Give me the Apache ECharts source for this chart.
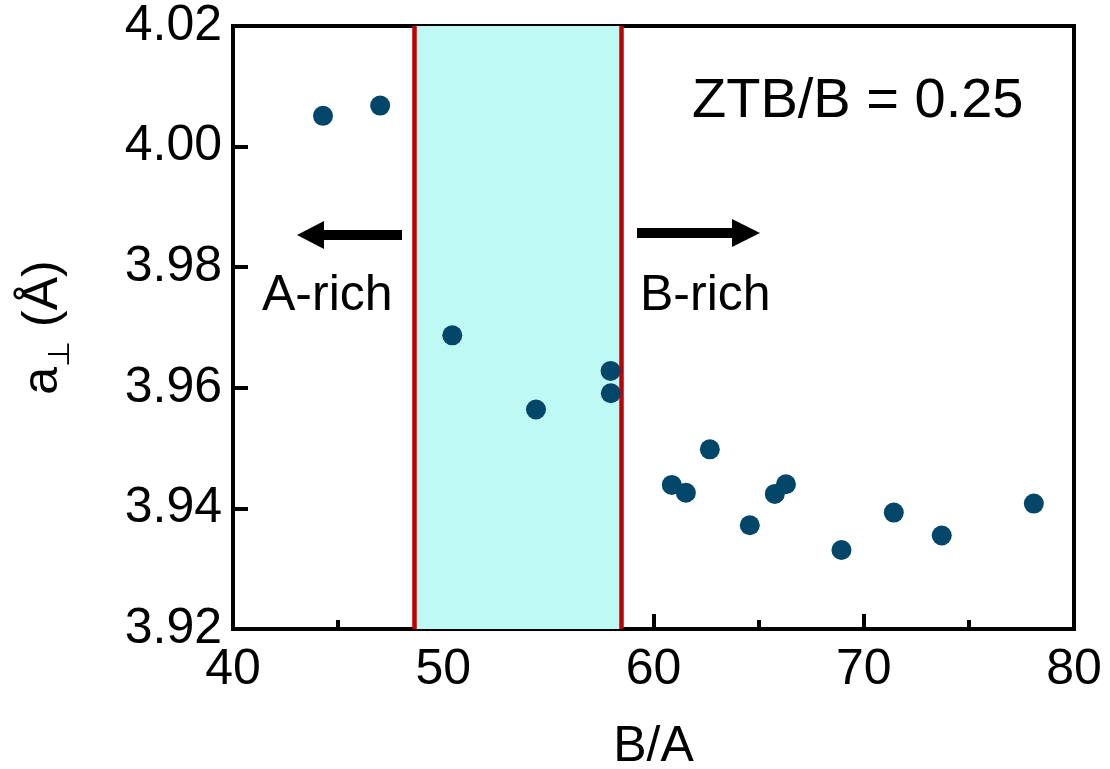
<!DOCTYPE html>
<html>
<head>
<meta charset="utf-8">
<script src="https://cdn.jsdelivr.net/npm/echarts@6/dist/echarts.min.js"></script>
<style>
html,body{margin:0;padding:0;background:#fff;}
#chart{width:1110px;height:769px;}
</style>
</head>
<body>
<div id="chart"></div>
<script>
// Data
const ratioBA = [44.28, 47.0, 50.43, 54.41, 57.96, 57.97, 60.87, 61.54, 62.68, 64.58, 65.77, 66.3, 68.94, 71.43, 73.71, 78.09];
const aPerp = [4.0051, 4.0068, 3.9687, 3.9564, 3.9628, 3.9591, 3.9439, 3.9426, 3.9498, 3.9372, 3.9424, 3.9440, 3.9331, 3.9393, 3.9355, 3.9408];
const bandEdges = [48.6, 58.45];
const xTicks = [40, 50, 60, 70, 80];
const yTicks = [3.92, 3.94, 3.96, 3.98, 4.00, 4.02];

const FONT = '"Liberation Sans", Arial, sans-serif';
const points = ratioBA.map((x, i) => [x, aPerp[i]]);

const chart = echarts.init(document.getElementById('chart'), null, {renderer: 'canvas'});
chart.setOption({
  animation: false,
  backgroundColor: '#ffffff',
  grid: {left: 233, right: 36, top: 26, bottom: 140, containLabel: false, outerBoundsMode: 'none',
    show: true, borderColor: '#000', borderWidth: 4, backgroundColor: 'transparent'},
  xAxis: {
    type: 'value', min: xTicks[0], max: xTicks[xTicks.length - 1], interval: 10,
    name: 'B/A', nameLocation: 'middle', nameGap: 93,
    nameTextStyle: {fontFamily: FONT, fontSize: 50, color: '#000'},
    axisLine: {show: true, lineStyle: {color: '#000', width: 4}},
    axisTick: {show: true, inside: true, length: 15, lineStyle: {color: '#000', width: 4}},
    minorTick: {show: true, splitNumber: 2, length: 9, lineStyle: {color: '#000', width: 4}},
    axisLabel: {fontFamily: FONT, fontSize: 50, color: '#000', margin: 16},
    splitLine: {show: false}
  },
  yAxis: {
    type: 'value', min: yTicks[0], max: yTicks[yTicks.length - 1], interval: 0.02,
    name: '{a|a}{s|⊥}{a| (Å)}', nameLocation: 'middle', nameGap: 165, nameRotate: 90,
    nameTextStyle: {
      fontFamily: FONT, color: '#000',
      rich: {
        a: {fontFamily: FONT, fontSize: 50, color: '#000', verticalAlign: 'bottom'},
        s: {fontFamily: FONT, fontSize: 30, color: '#000', verticalAlign: 'bottom', padding: [0, 0, -8, 0]}
      }
    },
    axisLine: {show: true, lineStyle: {color: '#000', width: 4}},
    axisTick: {show: true, inside: true, length: 15, lineStyle: {color: '#000', width: 4}},
    axisLabel: {fontFamily: FONT, fontSize: 50, color: '#000', margin: 11, formatter: v => v.toFixed(2)},
    splitLine: {show: false}
  },
  series: [
    {
      type: 'line', data: [], silent: true,
      markArea: {silent: true, itemStyle: {color: '#bff9f4'}, data: [[{xAxis: bandEdges[0]}, {xAxis: bandEdges[1]}]]},
      markLine: {silent: true, symbol: ['none', 'none'], label: {show: false},
        lineStyle: {color: '#c00000', width: 4.5, type: 'solid'},
        data: bandEdges.map(v => ({xAxis: v}))}
    },
    {
      type: 'scatter', data: points, symbol: 'circle', symbolSize: 20,
      itemStyle: {color: '#02466a', opacity: 1}, z: 5
    }
  ],
  graphic: [
    {type: 'rect', shape: {x: 322, y: 230, width: 80, height: 10}, style: {fill: '#000'}},
    {type: 'polygon', shape: {points: [[297, 235], [324, 221], [324, 249]]}, style: {fill: '#000'}},
    {type: 'rect', shape: {x: 637, y: 228, width: 97, height: 10}, style: {fill: '#000'}},
    {type: 'polygon', shape: {points: [[760, 233], [732, 219], [732, 247]]}, style: {fill: '#000'}},
    {type: 'text', left: 262, top: 271, style: {text: 'A-rich', font: '50px ' + FONT, fill: '#000'}},
    {type: 'text', left: 640, top: 271, style: {text: 'B-rich', font: '50px ' + FONT, fill: '#000'}},
    {type: 'text', left: 692, top: 74, style: {text: 'ZTB/B = 0.25', font: '56px ' + FONT, fill: '#000'}}
  ]
});
</script>
</body>
</html>
